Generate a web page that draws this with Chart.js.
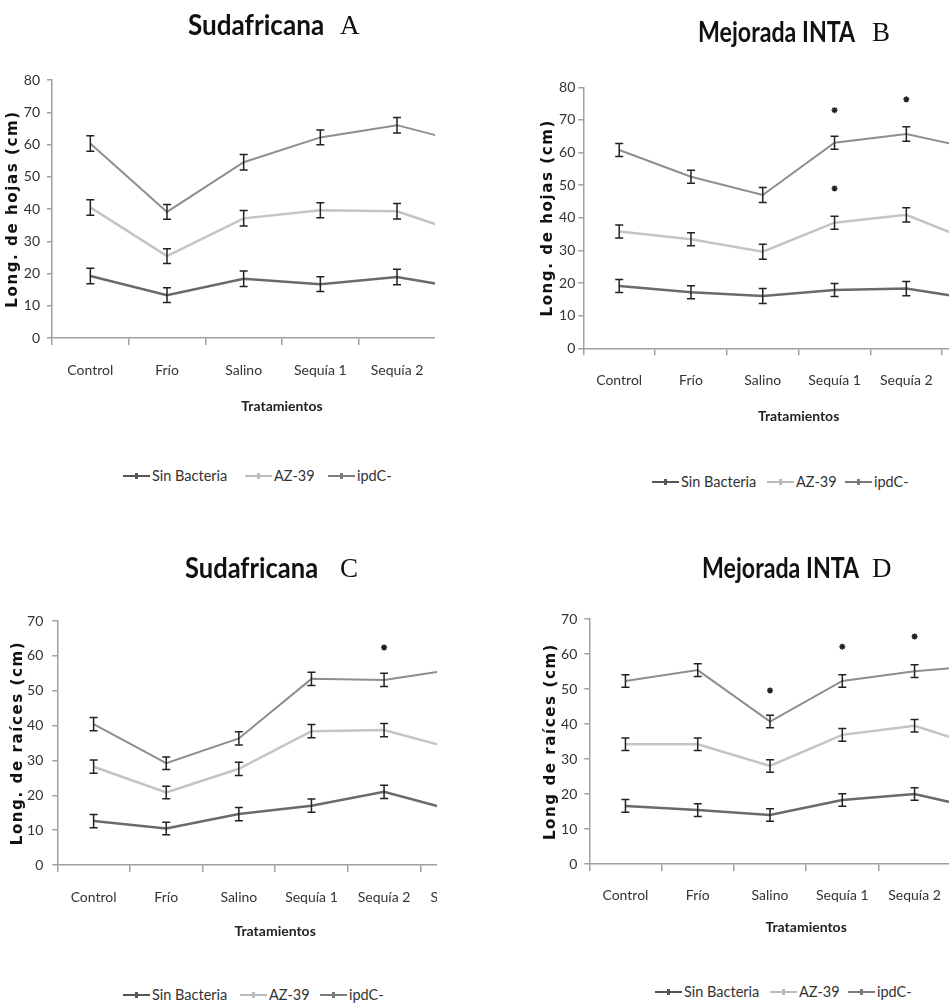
<!DOCTYPE html>
<html>
<head>
<meta charset="utf-8">
<script src="https://cdn.jsdelivr.net/npm/chart.js@4.4.0/dist/chart.umd.min.js"></script>
<style>
body { margin: 0; background: #fff; width: 949px; height: 1006px; position: relative; overflow: hidden;
       font-family: Lato, sans-serif; color: #222; }
.clip { position: absolute; overflow: hidden; }
.clip canvas { position: absolute; left: 0; top: 0; }
.word { position: absolute; font-weight: bold; font-size: 29px; line-height: 32px; white-space: nowrap; color: #111; transform-origin: 0 50%; }
.letter { position: absolute; font-family: 'Liberation Serif', serif; font-size: 27px; line-height: 27px; transform: translateY(-50%); color: #111; }
.leg { position: absolute; font-size: 14.5px; line-height: 18px; transform: translateY(-50%); white-space: nowrap; color: #333; }
.leg i { display: inline-block; width: 27px; height: 2px; vertical-align: middle; margin-right: 2px; position: relative; top: -1px; }
.leg i::after { content: ''; position: absolute; left: 12px; top: -2px; width: 3px; height: 6px; background: inherit; }
</style>
</head>
<body>
<script>
// Tratamientos (6th one is cut off in the figure)
const categories = ['Control', 'Frío', 'Salino', 'Sequía 1', 'Sequía 2', 'Sequía 3'];
const seriesNames = ['Sin Bacteria', 'AZ-39', 'ipdC-'];

// A - Sudafricana, long. de hojas
const sinA = [19.2, 13.3, 18.4, 16.7, 18.9, 14.9];
const az39A = [40.5, 25.4, 37.1, 39.6, 39.3, 31.3];
const ipdcA = [60.3, 39.1, 54.5, 62.2, 66.0, 59.8];
const errA = [2.4, 2.3, 2.4, 2.3, 2.4, 2.3];

// B - Mejorada INTA, long. de hojas
const sinB = [19.1, 17.2, 16.0, 17.9, 18.3, 14.9];
const az39B = [35.8, 33.4, 29.6, 38.5, 40.9, 32.1];
const ipdcB = [60.8, 52.6, 47.0, 63.0, 65.7, 60.9];
const errB = [2.0, 2.0, 2.3, 2.0, 2.2, 2.0];
const starCatsB = ['Sequía 1', 'Sequía 2', 'Sequía 1'];
const starValsB = [73.0, 76.3, 49.0];

// C - Sudafricana, long. de raices
const sinC = [12.6, 10.5, 14.6, 17.0, 21.0, 15.4];
const az39C = [28.2, 20.8, 27.6, 38.4, 38.7, 33.1];
const ipdcC = [40.4, 29.2, 36.3, 53.4, 53.1, 56.2];
const errC = [1.9, 1.8, 1.9, 1.9, 1.9, 1.9];
const starCatsC = ['Sequía 2'];
const starValsC = [62.4];

// D - Mejorada INTA, long. de raices
const sinD = [16.6, 15.4, 14.0, 18.3, 20.0, 15.3];
const az39D = [34.2, 34.2, 28.0, 36.9, 39.5, 32.9];
const ipdcD = [52.3, 55.4, 40.7, 52.3, 55.1, 56.8];
const errD = [1.8, 1.8, 1.8, 1.8, 1.8, 1.8];
const starCatsD = ['Salino', 'Sequía 1', 'Sequía 2'];
const starValsD = [49.6, 62.1, 65.0];

const lineColors = ['#6a6a6a', '#c4c4c4', '#8e8e8e'];
const legendColors = ['#555555', '#bbbbbb', '#7a7a7a'];
const axisColor = '#a0a0a0';
const textFont = 'Lato, sans-serif';
const tickSize = 14;
const xTitleSize = 14;

// error bars drawn over the lines
const errorBars = {
    id: 'errorBars',
    afterDatasetsDraw(chart) {
        const { ctx, scales: { x, y } } = chart;
        ctx.save();
        ctx.strokeStyle = '#222';
        ctx.lineWidth = 1.5;
        chart.data.datasets.forEach(ds => {
            if (!ds.errors) return;
            ds.data.forEach((v, j) => {
                const e = ds.errors[j];
                const px = x.getPixelForValue(j);
                const top = y.getPixelForValue(v + e);
                const bot = y.getPixelForValue(v - e);
                ctx.beginPath();
                ctx.moveTo(px, top); ctx.lineTo(px, bot);
                ctx.moveTo(px - 4, top); ctx.lineTo(px + 4, top);
                ctx.moveTo(px - 4, bot); ctx.lineTo(px + 4, bot);
                ctx.stroke();
            });
        });
        ctx.restore();
    }
};

// the y title in the figure is letter-spaced
const spacedTitle = {
    id: 'spacedTitle',
    afterLayout(chart) {
        const s = chart.scales.y;
        if (s._spaced) return;
        const orig = s.drawTitle.bind(s);
        s.drawTitle = function () {
            chart.ctx.save();
            chart.ctx.letterSpacing = '1.6px';
            orig();
            chart.ctx.restore();
        };
        s._spaced = true;
    }
};

function makePanel(p) {
    const lhTick = tickSize * 1.2;
    const lhTitle = xTitleSize * 1.2;
    const cw = Math.round(p.axisX - p.ox + p.catW * 6 + 10);
    const ch = Math.round(p.xTitleY - p.oy + lhTitle / 2);
    const clip = document.createElement('div');
    clip.className = 'clip';
    clip.style.left = p.ox + 'px';
    clip.style.top = p.oy + 'px';
    clip.style.width = (p.clipRight - p.ox) + 'px';
    clip.style.height = ch + 'px';
    const cv = document.createElement('canvas');
    cv.width = cw; cv.height = ch;
    cv.style.width = cw + 'px'; cv.style.height = ch + 'px';
    clip.appendChild(cv);
    document.body.appendChild(clip);

    const datasets = p.series.map((vals, i) => ({
        label: seriesNames[i],
        data: vals,
        errors: p.err,
        borderColor: lineColors[i],
        borderWidth: i === 2 ? 2 : 2.5,
        pointRadius: 0,
        tension: 0
    }));
    if (p.starCats) {
        datasets.push({
            label: 'sig',
            data: p.starCats.map((c, k) => ({ x: c, y: p.starVals[k] })),
            showLine: false,
            pointStyle: 'star',
            pointRadius: 3,
            pointBorderWidth: 1.5,
            pointBorderColor: '#222',
            pointBackgroundColor: '#222'
        });
    }

    new Chart(cv, {
        type: 'line',
        data: { labels: categories, datasets: datasets },
        options: {
            responsive: false,
            animation: false,
            devicePixelRatio: 1,
            layout: { padding: { top: p.yTop - p.oy, right: 10, left: 0, bottom: 0 } },
            plugins: { legend: { display: false }, tooltip: { enabled: false } },
            scales: {
                x: {
                    offset: true,
                    grid: { offset: true, drawOnChartArea: false, tickLength: 7, color: axisColor, lineWidth: 1.5 },
                    border: { color: axisColor, width: 1.5 },
                    ticks: { autoSkip: false, maxRotation: 0, padding: p.xLabY - p.yBottom - 7 - lhTick / 2,
                             font: { family: textFont, size: tickSize }, color: '#333' },
                    title: { display: true, text: 'Tratamientos', padding: 0,
                             font: { family: textFont, size: xTitleSize, weight: 'bold' }, color: '#222' },
                    afterFit(s) { s.height = ch - (p.yBottom - p.oy); }
                },
                y: {
                    min: 0, max: p.max,
                    grid: { drawOnChartArea: false, tickLength: 5, color: axisColor, lineWidth: 1.5 },
                    border: { color: axisColor, width: 1.5 },
                    ticks: { stepSize: 10, padding: p.yLabPad, font: { family: textFont, size: tickSize }, color: '#333' },
                    title: { display: true, text: p.yTitle, padding: { top: p.yTitleX - p.ox - 9, bottom: 0 },
                             font: { family: 'DejaVu Sans', size: 15, weight: 'bold' }, color: '#111' },
                    afterFit(s) { s.width = p.axisX - p.ox; }
                }
            }
        },
        plugins: [errorBars, spacedTitle]
    });

    const w = document.createElement('div');
    w.className = 'word'; w.textContent = p.title;
    w.style.left = p.titleX + 'px'; w.style.top = p.titleY + 'px';
    w.style.transform = 'translateY(-50%) scaleX(' + p.titleScale + ')';
    document.body.appendChild(w);
    const l = document.createElement('div');
    l.className = 'letter'; l.textContent = p.letter;
    l.style.left = p.letterX + 'px'; l.style.top = (p.titleY + 1) + 'px';
    document.body.appendChild(l);

    seriesNames.forEach((name, i) => {
        const it = document.createElement('div');
        it.className = 'leg';
        it.style.left = p.legX[i] + 'px';
        it.style.top = p.legY + 'px';
        it.innerHTML = '<i style="background:' + legendColors[i] + '"></i>' + name;
        document.body.appendChild(it);
    });
}

makePanel({ series: [sinA, az39A, ipdcA], err: errA, max: 80, yTitle: 'Long. de hojas (cm)',
    ox: 0, oy: 40, axisX: 52, yTop: 80, yBottom: 338, catW: 76.6, clipRight: 435,
    yTitleX: 12.7, yLabPad: 7, xLabY: 370, xTitleY: 407,
    title: 'Sudafricana', letter: 'A', titleX: 188, letterX: 340, titleY: 24, titleScale: 0.9,
    legX: [123, 245, 328], legY: 476 });

makePanel({ series: [sinB, az39B, ipdcB], err: errB, max: 80, yTitle: 'Long. de hojas (cm)',
    starCats: starCatsB, starVals: starValsB,
    ox: 534, oy: 47, axisX: 583.3, yTop: 87.3, yBottom: 348.3, catW: 71.8, clipRight: 949,
    yTitleX: 548, yLabPad: 3, xLabY: 380, xTitleY: 417,
    title: 'Mejorada INTA', letter: 'B', titleX: 698, letterX: 872, titleY: 31, titleScale: 0.8,
    legX: [652, 767, 845], legY: 482 });

makePanel({ series: [sinC, az39C, ipdcC], err: errC, max: 70, yTitle: 'Long. de raíces (cm)',
    starCats: starCatsC, starVals: starValsC,
    ox: 4, oy: 581, axisX: 57.3, yTop: 621, yBottom: 865, catW: 72.6, clipRight: 436.7,
    yTitleX: 18, yLabPad: 9, xLabY: 897, xTitleY: 932,
    title: 'Sudafricana', letter: 'C', titleX: 185, letterX: 340, titleY: 567, titleScale: 0.88,
    legX: [123, 240, 320], legY: 995 });

makePanel({ series: [sinD, az39D, ipdcD], err: errD, max: 70, yTitle: 'Long de raíces (cm)',
    starCats: starCatsD, starVals: starValsD,
    ox: 537, oy: 579, axisX: 589.3, yTop: 619, yBottom: 864, catW: 72.3, clipRight: 949,
    yTitleX: 551, yLabPad: 7, xLabY: 895, xTitleY: 928,
    title: 'Mejorada INTA', letter: 'D', titleX: 702, letterX: 872, titleY: 567, titleScale: 0.8,
    legX: [655, 770, 848], legY: 992 });
</script>
</body>
</html>
